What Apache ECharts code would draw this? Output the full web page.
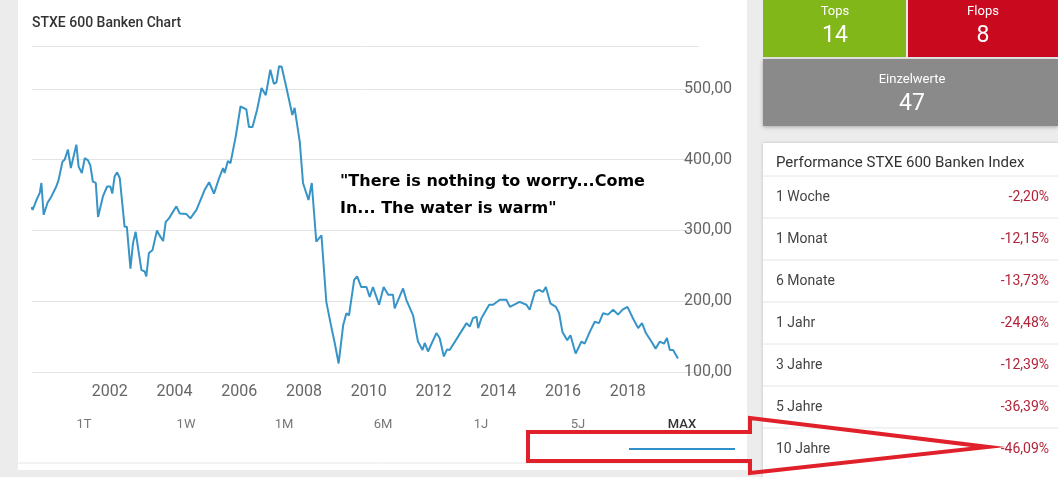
<!DOCTYPE html>
<html><head><meta charset="utf-8">
<script src="https://cdn.jsdelivr.net/npm/echarts@6/dist/echarts.min.js"></script>
<style>html,body{margin:0;padding:0;background:#ececec;}#c{width:1058px;height:477px;}</style>
</head><body><div id="c"></div>
<script>
const years = [1999.58,1999.62,1999.74,1999.84,1999.89,1999.96,2000.08,2000.20,2000.35,2000.42,2000.54,2000.61,2000.71,2000.80,2000.97,2001.04,2001.14,2001.23,2001.33,2001.40,2001.48,2001.57,2001.64,2001.79,2001.92,2002.02,2002.08,2002.15,2002.23,2002.31,2002.46,2002.53,2002.64,2002.72,2002.80,2002.98,2003.08,2003.13,2003.21,2003.32,2003.46,2003.54,2003.65,2003.73,2003.83,2004.06,2004.16,2004.37,2004.49,2004.68,2004.93,2005.07,2005.22,2005.38,2005.50,2005.55,2005.65,2005.73,2005.89,2006.04,2006.22,2006.30,2006.41,2006.55,2006.69,2006.82,2006.96,2007.07,2007.15,2007.23,2007.31,2007.46,2007.64,2007.71,2007.87,2007.97,2008.14,2008.24,2008.38,2008.54,2008.69,2008.82,2008.95,2009.07,2009.21,2009.31,2009.39,2009.55,2009.64,2009.77,2009.93,2010.03,2010.13,2010.32,2010.46,2010.60,2010.75,2010.80,2011.06,2011.16,2011.37,2011.52,2011.66,2011.73,2011.83,2012.09,2012.19,2012.32,2012.42,2012.50,2012.76,2013.02,2013.12,2013.22,2013.33,2013.38,2013.48,2013.72,2013.84,2014.05,2014.25,2014.36,2014.66,2014.87,2014.97,2015.13,2015.26,2015.38,2015.47,2015.61,2015.78,2015.88,2015.98,2016.13,2016.23,2016.39,2016.57,2016.67,2016.83,2016.98,2017.11,2017.24,2017.39,2017.55,2017.70,2017.84,2017.99,2018.16,2018.32,2018.44,2018.56,2018.73,2018.86,2018.99,2019.12,2019.21,2019.30,2019.40,2019.55];
const values = [333,329,343,353,367,322,339,348,362,371,397,400,414,388,421,390,381,402,399,392,369,367,319,348,362,362,352,376,382,374,305,305,246,282,298,244,242,235,268,272,300,293,285,312,317,334,324,323,317,329,357,368,352,374,388,381,398,395,432,475,471,446,446,470,501,491,527,507,509,532,531,501,463,473,425,367,343,367,284,293,199,169,141,112,166,183,180,230,235,220,220,206,220,195,220,209,209,190,218,202,180,143,131,141,129,155,148,122,132,131,150,169,164,176,178,162,176,195,195,202,202,192,199,195,188,213,216,213,220,197,192,183,157,145,152,126,143,140,157,171,169,183,181,188,181,188,192,176,162,169,155,143,133,143,140,148,131,131,119];
const periods = ['1T','1W','1M','6M','1J','5J','MAX'];
const perfLabels = ['1 Woche','1 Monat','6 Monate','1 Jahr','3 Jahre','5 Jahre','10 Jahre'];
const perfValues = ['-2,20%','-12,15%','-13,73%','-24,48%','-12,39%','-36,39%','-46,09%'];
const tiles = {tops:14, flops:8, einzel:47};

const chart = echarts.init(document.getElementById('c'));
const F = 'Roboto';
const g = [];
g.push({type:'rect',shape:{x:18,y:0,width:729,height:470},style:{fill:'#fff'},z:-10});
g.push({type:'text',left:32,top:16,style:{text:'STXE 600 Banken Chart',fontFamily:F,fontSize:14,fontWeight:500,fill:'#333'}});
g.push({type:'text',left:340,top:168,style:{text:'"There is nothing to worry...Come\nIn... The water is warm"',fontFamily:'DejaVu Sans',fontWeight:'bold',fontSize:16,lineHeight:27,fill:'#000'}});
const px=[84,186,284,383,481,578,682];
periods.forEach((p,i)=>g.push({type:'text',x:px[i],y:418,style:{text:p,fontFamily:F,fontSize:13,fill:i===6?'#333':'#777',align:'center',fontWeight:i===6?500:400}}));
g.push({type:'line',shape:{x1:18,y1:463,x2:747,y2:463},style:{stroke:'#e5e5e5',lineWidth:1}});
g.push({type:'line',shape:{x1:629,y1:449,x2:735,y2:449},style:{stroke:'#2f8fc8',lineWidth:2}});
// right tiles
g.push({type:'rect',shape:{x:763,y:0,width:143,height:57},style:{fill:'#82b71a'}});
g.push({type:'rect',shape:{x:908,y:0,width:150,height:57},style:{fill:'#c8091e'}});
g.push({type:'rect',shape:{x:763,y:59,width:295,height:67},style:{fill:'#8a8a8a',shadowBlur:4,shadowColor:'rgba(0,0,0,0.3)',shadowOffsetY:1}});
const tt=(x,y,t,s)=>g.push({type:'text',x:x,y:y,style:{text:t,fontFamily:F,fontSize:s,fill:'#fff',align:'center',verticalAlign:'middle'}});
tt(835,12,'Tops',13);tt(835,36,String(tiles.tops),23);
tt(983,12,'Flops',13);tt(983,36,String(tiles.flops),23);
tt(912,80,'Einzelwerte',13);tt(912,104,String(tiles.einzel),23);
g.push({type:'rect',shape:{x:763,y:143,width:295,height:340},style:{fill:'#fff',shadowBlur:3,shadowColor:'rgba(0,0,0,0.2)'}});
g.push({type:'text',x:776,y:163,style:{text:'Performance STXE 600 Banken Index',fontFamily:F,fontSize:15,fill:'#333',verticalAlign:'middle'}});
perfLabels.forEach((l,i)=>{
  const y=197+i*42;
  g.push({type:'text',x:776,y:y,style:{text:l,fontFamily:F,fontSize:14,fill:'#444',verticalAlign:'middle'}});
  g.push({type:'text',x:1049,y:y,style:{text:perfValues[i],fontFamily:F,fontSize:14,fill:'#b3243a',align:'right',verticalAlign:'middle'}});
  g.push({type:'line',shape:{x1:763,y1:y-21,x2:1058,y2:y-21},style:{stroke:'#e6e6e6',lineWidth:1}});
});
// red arrow
g.push({type:'polygon',shape:{points:[[528,432],[750,432],[750,418],[988,447],[750,473],[750,461],[528,461]]},style:{fill:'none',stroke:'#e0202a',lineWidth:4},z:100});

chart.setOption({
  animation:false,
  grid:{left:32,right:359,top:46.3,bottom:105},
  xAxis:{type:'value',min:1999.6,max:2020.2,interval:2,
    axisLine:{show:false},axisTick:{show:false},splitLine:{show:false},
    axisLabel:{fontFamily:F,fontSize:16,color:'#666',margin:12,
      formatter:v=>{const r=Math.round(v);return (Math.abs(v-r)<0.01&&r%2===0&&r>=2002&&r<=2018)?String(r):'';},
      customValues:[2002,2004,2006,2008,2010,2012,2014,2016,2018]}},
  yAxis:{type:'value',position:'right',min:100,max:560,interval:100,
    axisLine:{show:false},axisTick:{show:false},
    splitLine:{lineStyle:{color:'#e3e3e3'}},
    axisLabel:{fontFamily:F,fontSize:16,color:'#666',margin:-15,showMaxLabel:false,
      formatter:v=>v%100===0?v.toFixed(2).replace('.',','):''}},
  series:[{type:'line',data:years.map((y,i)=>[y,values[i]]),symbol:'none',
    lineStyle:{color:'#3794c7',width:2}}],
  graphic:g
});
</script></body></html>
